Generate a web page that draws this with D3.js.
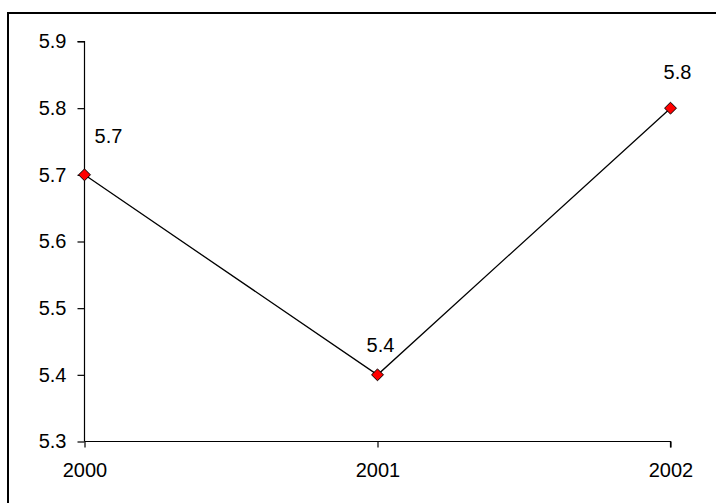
<!DOCTYPE html>
<html>
<head>
<meta charset="utf-8">
<script src="https://cdn.jsdelivr.net/npm/d3@7"></script>
<style>
  body { margin: 0; background: #fff; }
</style>
</head>
<body>
<script>
var years = ["2000", "2001", "2002"];
var values = [5.7, 5.4, 5.8];
var yTicks = [5.3, 5.4, 5.5, 5.6, 5.7, 5.8, 5.9];

var width = 716, height = 503;
var font = "'Liberation Sans', Arial, sans-serif";
var fontSize = 20;

var svg = d3.select("body").append("svg")
  .attr("width", width)
  .attr("height", height);

// outer frame, runs off the right/bottom edge like the original
svg.append("rect")
  .attr("x", 8).attr("y", 13)
  .attr("width", 730).attr("height", 520)
  .attr("fill", "none")
  .attr("stroke", "#000")
  .attr("stroke-width", 2);

var x = d3.scalePoint().domain(years).range([84.5, 670.5]);
var y = d3.scaleLinear().domain([5.3, 5.9]).range([441.5, 41.5]);

var yAxis = d3.axisLeft(y).tickValues(yTicks).tickSize(7).tickPadding(11)
  .tickFormat(d3.format(".1f"));
var xAxis = d3.axisBottom(x).tickSize(6).tickPadding(15);

var gy = svg.append("g").attr("transform", "translate(84.5,0)").call(yAxis);
var gx = svg.append("g").attr("transform", "translate(0,441.5)").call(xAxis);

[gx, gy].forEach(function(g) {
  g.attr("font-size", fontSize).attr("font-family", font);
  g.selectAll("path, line").attr("stroke", "#000").attr("stroke-width", 1.2);
  g.selectAll("text").attr("fill", "#000");
});
gy.select(".domain").attr("d", "M-7,41.5H0V441.5");
gx.select(".domain").attr("d", "M84.5,0H670.5V6");

var pts = years.map(function(d, i) { return { year: d, value: values[i] }; });

var line = d3.line()
  .x(function(d) { return x(d.year); })
  .y(function(d) { return y(d.value); });

svg.append("path")
  .datum(pts)
  .attr("d", line)
  .attr("fill", "none")
  .attr("stroke", "#000")
  .attr("stroke-width", 1.3);

svg.selectAll(".marker")
  .data(pts)
  .enter()
  .append("path")
  .attr("class", "marker")
  .attr("d", d3.symbol().type(d3.symbolDiamond2).size(90))
  .attr("transform", function(d) { return "translate(" + x(d.year) + "," + y(d.value) + ")"; })
  .attr("fill", "#ff0000")
  .attr("stroke", "#000")
  .attr("stroke-width", 1);

// label nudges relative to each point
var labelDx = [24, 3, 7];
var labelDy = [-32, -22.5, -29];

svg.selectAll(".lbl")
  .data(pts)
  .enter()
  .append("text")
  .attr("class", "lbl")
  .attr("x", function(d, i) { return x(d.year) + labelDx[i]; })
  .attr("y", function(d, i) { return y(d.value) + labelDy[i]; })
  .attr("text-anchor", "middle")
  .attr("font-family", font)
  .attr("font-size", fontSize)
  .text(function(d) { return d3.format(".1f")(d.value); });
</script>
</body>
</html>
